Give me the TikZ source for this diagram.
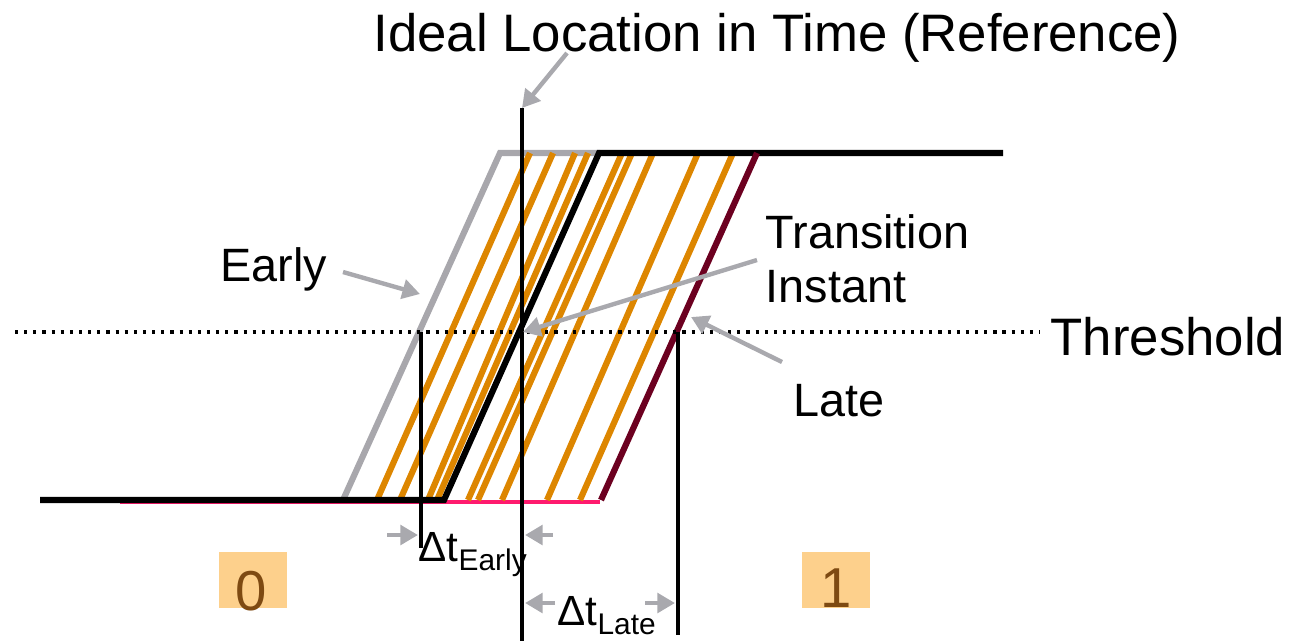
\documentclass[tikz,border=0pt]{standalone}
\usepackage{fontspec}
\setmainfont{Liberation Sans}
\usetikzlibrary{arrows.meta}
\definecolor{edgeorange}{HTML}{DD8600}
\definecolor{edgegray}{HTML}{A8A7AC}
\definecolor{edgelate}{HTML}{6C0020}
\definecolor{floorpink}{HTML}{FF1A6E}
\definecolor{pointgray}{HTML}{A9A9AE}
\definecolor{bitfill}{HTML}{FDD08C}
\definecolor{bittext}{HTML}{7E4A12}
\tikzset{
  lbl/.style={inner sep=0pt, font=\fontsize{15}{17}\selectfont},
  small lbl/.style={inner sep=0pt, font=\fontsize{13.3}{15}\selectfont},
  pointer/.style={pointgray, line width=1.25pt, -{Triangle[length=5pt, width=5.5pt]}},
  edge/.style={line width=1.75pt},
  marker/.style={line width=1.1pt},
}

\begin{document}
\begin{tikzpicture}[x=0.01cm, y=-0.01cm]
\useasboundingbox (0,0) rectangle (1291,641);
\def\hi{153}
\def\lo{500}
\def\thr{332}
% levels
\draw[floorpink, line width=1.1pt] (120,502) -- (600,502);
\draw[edgegray, edge] (343,\lo) -- (500,\hi) -- (600,\hi);
% spread of edges
\foreach \b/\t in {377/530,400/553,428/575,437/588,468/622,478/632,502/653,547/698,580/733}
  \draw[edgeorange, edge] (\b,\lo) -- (\t,\hi);
\draw[edge] (40,\lo) -- (444,\lo) -- (599,\hi) -- (1003,\hi);
\draw[edgelate, edge] (601,\lo) -- (757,\hi);
% threshold
\draw[line width=0.9pt, dash pattern=on 0.9pt off 1.7pt] (15,\thr) -- (1040,\thr);
% time markers
\coordinate (ideal) at (522,108);
\coordinate (early x) at (421,\thr);
\coordinate (late x) at (678,\thr);
\draw[marker] (ideal) -- (522,641);
\draw[marker] (early x) -- (421,548);
\draw[marker] (late x) -- (678,635);
% labels
\node[lbl, anchor=base] (title) at (777,51) {Ideal Location in Time (Reference)};
\node[small lbl, anchor=base] (early) at (274,281) {Early};
\node[small lbl, anchor=base west] (trans) at (765,248) {Transition};
\node[small lbl, anchor=base west] (inst) at (765,302) {Instant};
\node[small lbl, anchor=base west] (late) at (793,416) {Late};
\node[lbl, anchor=base west] (thresh) at (1050,355) {Threshold};
\node[inner sep=0pt, anchor=base west] (dearly) at (418,561)
  {\fontsize{12}{14}\selectfont Δt\raisebox{-2.8pt}{\fontsize{8.5}{10}\selectfont Early}};
\node[inner sep=0pt, anchor=base west] (dlate) at (557,625)
  {\fontsize{12}{14}\selectfont Δt\raisebox{-2.8pt}{\fontsize{8.5}{10}\selectfont Late}};
% bits
\fill[bitfill] (219,552) rectangle (287,608);
\fill[bitfill] (802,552) rectangle (870,608);
\node[lbl, font=\fontsize{16}{18}\selectfont, text=bittext, anchor=base] (zero) at (251,610) {0};
\node[lbl, font=\fontsize{16}{18}\selectfont, text=bittext, anchor=base] (one) at (836,607) {1};
% pointers
\coordinate (title tail) at (567,53);
\coordinate (early tail) at (343,272);
\coordinate (early head) at (420,294);
\coordinate (trans tail) at (757,260);
\coordinate (crossing) at (523,332);
\coordinate (late tail) at (782,362);
\coordinate (late head) at (691,317);
\draw[pointer] (title tail) -- (ideal);
\draw[pointer] (early tail) -- (early head);
\draw[pointer] (trans tail) -- (crossing);
\draw[pointer] (late tail) -- (late head);
\draw[pointer] (387,535) -- (418,535);
\draw[pointer] (553,535) -- (525,535);
\draw[pointer] (555,603) -- (525,603);
\draw[pointer] (645,603) -- (675,603);
\end{tikzpicture}
\end{document}
